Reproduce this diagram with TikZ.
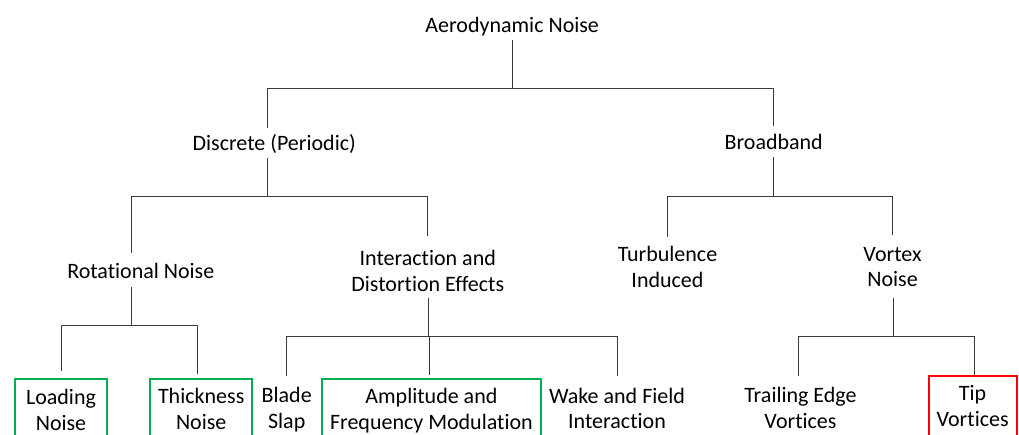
\documentclass[tikz,border=0pt]{standalone}
\usepackage{fontspec}
\setmainfont{Carlito}[Ligatures={NoCommon}]
\definecolor{boxgreen}{RGB}{0,176,80}
\definecolor{boxred}{RGB}{255,0,0}
\definecolor{conn}{RGB}{60,60,60}
\begin{document}
\begin{tikzpicture}[x=1pt,y=-1pt,
  lbl/.style={font=\fontsize{22}{25.8}\selectfont, align=center, inner sep=0pt, text=black},
  gbox/.style={lbl, draw=boxgreen, line width=2pt},
  rbox/.style={lbl, draw=boxred, line width=2pt},
  edge/.style={draw=conn, line width=0.9pt}]
\useasboundingbox (0,0) rectangle (1019,435);
\clip (0,0) rectangle (1019,435);

% nodes
\node[lbl] (root)  at (512.2,26.4) {Aerodynamic Noise};
\node[lbl] (disc)  at (274.2,143.8) {Discrete (Periodic)};
\node[lbl] (broad) at (773.7,141.6) {Broadband};
\node[lbl] (rot)   at (140.8,270.6) {Rotational Noise};
\node[lbl] (inter) at (427.8,271.2) {Interaction and\\Distortion Effects};
\node[lbl] (turb)  at (667.5,266.9) {Turbulence\\Induced};
\node[lbl] (vort)  at (892.5,267.0) {Vortex\\Noise};
\node[gbox, minimum width=92pt, minimum height=60.8pt] (load) at (61,409.7) {Loading\\Noise};
\node[gbox, minimum width=102.3pt, minimum height=59.8pt] (thick) at (201.2,408.9) {Thickness\\Noise};
\node[lbl] (blade) at (286.7,409.9) {Blade\\Slap};
\node[gbox, minimum width=219.7pt, minimum height=64.4pt] (ampl) at (431.4,410.9) {Amplitude and\\Frequency Modulation};
\node[lbl] (wake)  at (617,408.5) {Wake and Field\\Interaction};
\node[lbl] (trail) at (800.5,407.9) {Trailing Edge\\Vortices};
\node[rbox, minimum width=88.2pt, minimum height=60.3pt] (tip) at (972.6,405.7) {Tip\\Vortices};

% junctions
\coordinate (j1) at (512.6,88.3);
\coordinate (j2) at (267.3,196);
\coordinate (j3) at (773.5,196.5);
\coordinate (j4) at (131.7,325.8);
\coordinate (j5) at (428.6,336.8);
\coordinate (j6) at (893,336);

% connectors
\draw[edge, shorten <=3.6pt] (j1 |- root.south) -- (j1);
\draw[edge, shorten >=5.6pt] (j1) -| ([xshift=-6.9pt]disc.north);
\draw[edge, shorten >=7.2pt] (j1) -| (broad.north);

\draw[edge, shorten <=4pt] (j2 |- disc.south) -- (j2);
\draw[edge, shorten >=9.9pt] (j2) -| ([xshift=-9.1pt]rot.north);
\draw[edge, shorten >=14.6pt] (j2) -| (inter.north);

\draw[edge, shorten <=7.4pt] (j3 |- broad.south) -- (j3);
\draw[edge, shorten >=9.3pt] (j3) -| (turb.north);
\draw[edge, shorten >=12pt] (j3) -| (vort.north);

\draw[edge, shorten <=8.4pt] (j4 |- rot.south) -- (j4);
\draw[edge, shorten >=7pt] (j4) -| (load.north);
\draw[edge, shorten >=4pt] (j4) -| ([xshift=-3.5pt]thick.north);

\draw[edge, shorten <=6pt] (j5 |- inter.south) -- (j5);
\draw[edge, shorten >=10.9pt] (j5) -| ([xshift=-0.4pt]blade.north);
\draw[edge, shorten >=2.7pt] (j5) -| ([xshift=-2.4pt]ampl.north);
\draw[edge, shorten >=11.9pt] (j5) -| ([xshift=0.7pt]wake.north);

\draw[edge, shorten <=10.6pt] (j6 |- vort.south) -- (j6);
\draw[edge, shorten >=10.6pt] (j6) -| ([xshift=-2.2pt]trail.north);
\draw[edge] (j6) -| ([xshift=2.1pt]tip.north);
\end{tikzpicture}
\end{document}
